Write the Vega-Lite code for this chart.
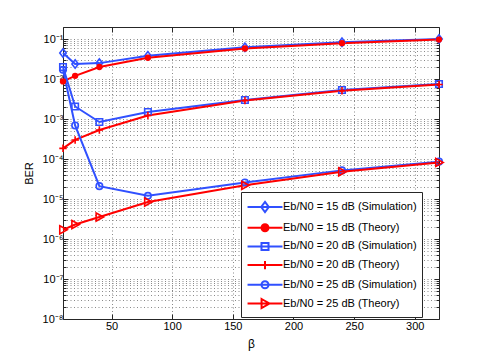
{
  "$schema": "https://vega.github.io/schema/vega-lite/v6.json",
  "width": 376,
  "height": 292,
  "autosize": {"type": "none"},
  "padding": {"left": 63, "top": 27, "right": 46, "bottom": 41},
  "background": "white",
  "config": {
    "font": "Liberation Sans",
    "view": {"stroke": null},
    "point": {"size": 42, "strokeWidth": 1.6, "opacity": 1, "clip": false},
    "axis": {
      "domainColor": "#262626",
      "domainWidth": 1,
      "tickColor": "#262626",
      "labelColor": "#000",
      "titleColor": "#000",
      "labelFontSize": 11,
      "titleFontSize": 11,
      "titleFontWeight": "normal",
      "labelFlush": false,
      "labelOverlap": false,
      "gridColor": "#8a8a8a",
      "gridDash": [1, 2.5],
      "gridWidth": 1
    }
  },
  "datasets": {
    "ber": [
      {"beta": 10, "ber": 0.045, "series": "Eb/N0 = 15 dB (Simulation)"},
      {"beta": 20, "ber": 0.0237, "series": "Eb/N0 = 15 dB (Simulation)"},
      {"beta": 40, "ber": 0.025, "series": "Eb/N0 = 15 dB (Simulation)"},
      {"beta": 80, "ber": 0.038, "series": "Eb/N0 = 15 dB (Simulation)"},
      {"beta": 160, "ber": 0.062, "series": "Eb/N0 = 15 dB (Simulation)"},
      {"beta": 240, "ber": 0.083, "series": "Eb/N0 = 15 dB (Simulation)"},
      {"beta": 320, "ber": 0.1, "series": "Eb/N0 = 15 dB (Simulation)"},
      {"beta": 10, "ber": 0.0087, "series": "Eb/N0 = 15 dB (Theory)"},
      {"beta": 20, "ber": 0.012, "series": "Eb/N0 = 15 dB (Theory)"},
      {"beta": 40, "ber": 0.02, "series": "Eb/N0 = 15 dB (Theory)"},
      {"beta": 80, "ber": 0.034, "series": "Eb/N0 = 15 dB (Theory)"},
      {"beta": 160, "ber": 0.058, "series": "Eb/N0 = 15 dB (Theory)"},
      {"beta": 240, "ber": 0.079, "series": "Eb/N0 = 15 dB (Theory)"},
      {"beta": 320, "ber": 0.097, "series": "Eb/N0 = 15 dB (Theory)"},
      {"beta": 10, "ber": 0.02, "series": "Eb/N0 = 20 dB (Simulation)"},
      {"beta": 20, "ber": 0.00206, "series": "Eb/N0 = 20 dB (Simulation)"},
      {"beta": 40, "ber": 0.00084, "series": "Eb/N0 = 20 dB (Simulation)"},
      {"beta": 80, "ber": 0.0015, "series": "Eb/N0 = 20 dB (Simulation)"},
      {"beta": 160, "ber": 0.003, "series": "Eb/N0 = 20 dB (Simulation)"},
      {"beta": 240, "ber": 0.0053, "series": "Eb/N0 = 20 dB (Simulation)"},
      {"beta": 320, "ber": 0.0075, "series": "Eb/N0 = 20 dB (Simulation)"},
      {"beta": 10, "ber": 0.000185, "series": "Eb/N0 = 20 dB (Theory)"},
      {"beta": 20, "ber": 0.0003, "series": "Eb/N0 = 20 dB (Theory)"},
      {"beta": 40, "ber": 0.00053, "series": "Eb/N0 = 20 dB (Theory)"},
      {"beta": 80, "ber": 0.00123, "series": "Eb/N0 = 20 dB (Theory)"},
      {"beta": 160, "ber": 0.0029, "series": "Eb/N0 = 20 dB (Theory)"},
      {"beta": 240, "ber": 0.0051, "series": "Eb/N0 = 20 dB (Theory)"},
      {"beta": 320, "ber": 0.0073, "series": "Eb/N0 = 20 dB (Theory)"},
      {"beta": 10, "ber": 0.017, "series": "Eb/N0 = 25 dB (Simulation)"},
      {"beta": 20, "ber": 0.00069, "series": "Eb/N0 = 25 dB (Simulation)"},
      {"beta": 40, "ber": 0.000021, "series": "Eb/N0 = 25 dB (Simulation)"},
      {"beta": 80, "ber": 0.000012, "series": "Eb/N0 = 25 dB (Simulation)"},
      {"beta": 160, "ber": 0.000026, "series": "Eb/N0 = 25 dB (Simulation)"},
      {"beta": 240, "ber": 0.000052, "series": "Eb/N0 = 25 dB (Simulation)"},
      {"beta": 320, "ber": 0.000086, "series": "Eb/N0 = 25 dB (Simulation)"},
      {"beta": 10, "ber": 0.0000017, "series": "Eb/N0 = 25 dB (Theory)"},
      {"beta": 20, "ber": 0.0000023, "series": "Eb/N0 = 25 dB (Theory)"},
      {"beta": 40, "ber": 0.00000355, "series": "Eb/N0 = 25 dB (Theory)"},
      {"beta": 80, "ber": 0.0000084, "series": "Eb/N0 = 25 dB (Theory)"},
      {"beta": 160, "ber": 0.000022, "series": "Eb/N0 = 25 dB (Theory)"},
      {"beta": 240, "ber": 0.000048, "series": "Eb/N0 = 25 dB (Theory)"},
      {"beta": 320, "ber": 0.000082, "series": "Eb/N0 = 25 dB (Theory)"}
    ]
  },
  "data": {"name": "ber"},
  "layer": [
    {
      "mark": {"type": "line", "strokeWidth": 2, "clip": false},
      "encoding": {
        "x": {
          "field": "beta", "type": "quantitative",
          "scale": {"domain": [10, 320], "nice": false, "zero": false},
          "axis": {
            "title": "β",
            "values": [50, 100, 150, 200, 250, 300],
            "grid": true,
            "tickSize": -5,
            "labelPadding": 6,
            "titleY": 24,
            "titleBaseline": "middle",
            "titleFontSize": 12
          }
        },
        "y": {
          "field": "ber", "type": "quantitative",
          "scale": {"type": "log", "domain": [1e-8, 0.2], "nice": false},
          "axis": {
            "title": "BER",
            "values": [1e-8,2e-8,3e-8,4e-8,5e-8,6e-8,7e-8,8e-8,9e-8,1e-7,2e-7,3e-7,4e-7,5e-7,6e-7,7e-7,8e-7,9e-7,1e-6,2e-6,3e-6,4e-6,5e-6,6e-6,7e-6,8e-6,9e-6,1e-5,2e-5,3e-5,4e-5,5e-5,6e-5,7e-5,8e-5,9e-5,1e-4,2e-4,3e-4,4e-4,5e-4,6e-4,7e-4,8e-4,9e-4,1e-3,2e-3,3e-3,4e-3,5e-3,6e-3,7e-3,8e-3,9e-3,1e-2,2e-2,3e-2,4e-2,5e-2,6e-2,7e-2,8e-2,9e-2,0.1,0.2],
            "grid": true,
            "tickSize": {"condition": {"test": "abs(log(datum.value)/LN10 - round(log(datum.value)/LN10)) < 0.001", "value": -5}, "value": -3},
            "labelExpr": "abs(log(datum.value)/LN10 - round(log(datum.value)/LN10)) < 0.001 ? '10⁻' + ['⁰','¹','²','³','⁴','⁵','⁶','⁷','⁸','⁹'][-round(log(datum.value)/LN10)] : ''",
            "labelPadding": 5,
            "titleX": -34,
            "titleBaseline": "middle"
          }
        },
        "color": {
          "field": "series", "type": "nominal",
          "scale": {
            "domain": ["Eb/N0 = 15 dB (Simulation)", "Eb/N0 = 15 dB (Theory)", "Eb/N0 = 20 dB (Simulation)", "Eb/N0 = 20 dB (Theory)", "Eb/N0 = 25 dB (Simulation)", "Eb/N0 = 25 dB (Theory)"],
            "range": ["#3050ff", "#ff0000", "#3050ff", "#ff0000", "#3050ff", "#ff0000"]
          },
          "legend": {
            "title": null,
            "orient": "none",
            "legendX": 178,
            "legendY": 165,
            "fillColor": "white",
            "strokeColor": "#262626",
            "padding": 5,
            "symbolSize": 324,
            "symbolStrokeWidth": 2,
            "symbolOffset": 9,
            "labelOffset": 8,
            "labelFontSize": 11,
            "labelColor": "#000",
            "labelLimit": 300,
            "rowPadding": 0.7,
            "encode": {
              "symbols": {
                "update": {
                  "shape": {"signal": "['M-1.94,0L1.94,0M0,-0.56L0.42,0L0,0.56L-0.42,0Z','M-1.94,0L1.94,0M0.39,0A0.39,0.39,0,1,1,-0.39,0A0.39,0.39,0,1,1,0.39,0Z','M-1.94,0L1.94,0M-0.39,-0.39L0.39,-0.39L0.39,0.39L-0.39,0.39Z','M-1.94,0L1.94,0M0,-0.45L0,0.45','M-1.94,0L1.94,0M0.39,0A0.39,0.39,0,1,1,-0.39,0A0.39,0.39,0,1,1,0.39,0Z','M-1.94,0L1.94,0M-0.38,-0.5L0.5,0L-0.38,0.5Z'][indexof(['Eb/N0 = 15 dB (Simulation)','Eb/N0 = 15 dB (Theory)','Eb/N0 = 20 dB (Simulation)','Eb/N0 = 20 dB (Theory)','Eb/N0 = 25 dB (Simulation)','Eb/N0 = 25 dB (Theory)'], datum.value)]"},
                  "fill": {"signal": "datum.value == 'Eb/N0 = 15 dB (Theory)' ? '#ff0000' : 'transparent'"},
                  "strokeWidth": {"value": 2}
                }
              }
            }
          }
        }
      }
    },
    {
      "transform": [{"filter": {"field": "series", "equal": "Eb/N0 = 15 dB (Simulation)"}}],
      "mark": {"type": "point", "shape": "M0,-1.3L1,0L0,1.3L-1,0Z", "filled": false, "color": "#3050ff"},
      "encoding": {
        "x": {
          "field": "beta", "type": "quantitative",
          "axis": {
            "orient": "top", "labels": false, "title": null, "grid": false,
            "values": [50, 100, 150, 200, 250, 300],
            "tickSize": -5
          }
        },
        "y": {
          "field": "ber", "type": "quantitative",
          "axis": {
            "orient": "right", "labels": false, "title": null, "grid": false,
            "values": [1e-8,2e-8,3e-8,4e-8,5e-8,6e-8,7e-8,8e-8,9e-8,1e-7,2e-7,3e-7,4e-7,5e-7,6e-7,7e-7,8e-7,9e-7,1e-6,2e-6,3e-6,4e-6,5e-6,6e-6,7e-6,8e-6,9e-6,1e-5,2e-5,3e-5,4e-5,5e-5,6e-5,7e-5,8e-5,9e-5,1e-4,2e-4,3e-4,4e-4,5e-4,6e-4,7e-4,8e-4,9e-4,1e-3,2e-3,3e-3,4e-3,5e-3,6e-3,7e-3,8e-3,9e-3,1e-2,2e-2,3e-2,4e-2,5e-2,6e-2,7e-2,8e-2,9e-2,0.1,0.2],
            "tickSize": {"condition": {"test": "abs(log(datum.value)/LN10 - round(log(datum.value)/LN10)) < 0.001", "value": -5}, "value": -3}
          }
        }
      }
    },
    {
      "transform": [{"filter": {"field": "series", "equal": "Eb/N0 = 15 dB (Theory)"}}],
      "mark": {"type": "point", "shape": "circle", "filled": true, "color": "#ff0000", "size": 40},
      "encoding": {
        "x": {"field": "beta", "type": "quantitative", "axis": null},
        "y": {"field": "ber", "type": "quantitative", "axis": null}
      }
    },
    {
      "transform": [{"filter": {"field": "series", "equal": "Eb/N0 = 20 dB (Simulation)"}}],
      "mark": {"type": "point", "shape": "square", "filled": false, "color": "#3050ff"},
      "encoding": {
        "x": {"field": "beta", "type": "quantitative", "axis": null},
        "y": {"field": "ber", "type": "quantitative", "axis": null}
      }
    },
    {
      "transform": [{"filter": {"field": "series", "equal": "Eb/N0 = 20 dB (Theory)"}}],
      "mark": {"type": "point", "shape": "M-1.15,0L1.15,0M0,-1.15L0,1.15", "filled": false, "color": "#ff0000"},
      "encoding": {
        "x": {"field": "beta", "type": "quantitative", "axis": null},
        "y": {"field": "ber", "type": "quantitative", "axis": null}
      }
    },
    {
      "transform": [{"filter": {"field": "series", "equal": "Eb/N0 = 25 dB (Simulation)"}}],
      "mark": {"type": "point", "shape": "circle", "filled": false, "color": "#3050ff"},
      "encoding": {
        "x": {"field": "beta", "type": "quantitative", "axis": null},
        "y": {"field": "ber", "type": "quantitative", "axis": null}
      }
    },
    {
      "transform": [{"filter": {"field": "series", "equal": "Eb/N0 = 25 dB (Theory)"}}],
      "mark": {"type": "point", "shape": "M-1,-1.25L1.3,0L-1,1.25Z", "filled": false, "color": "#ff0000"},
      "encoding": {
        "x": {"field": "beta", "type": "quantitative", "axis": null},
        "y": {"field": "ber", "type": "quantitative", "axis": null}
      }
    }
  ],
  "resolve": {"axis": {"x": "independent", "y": "independent"}}
}
